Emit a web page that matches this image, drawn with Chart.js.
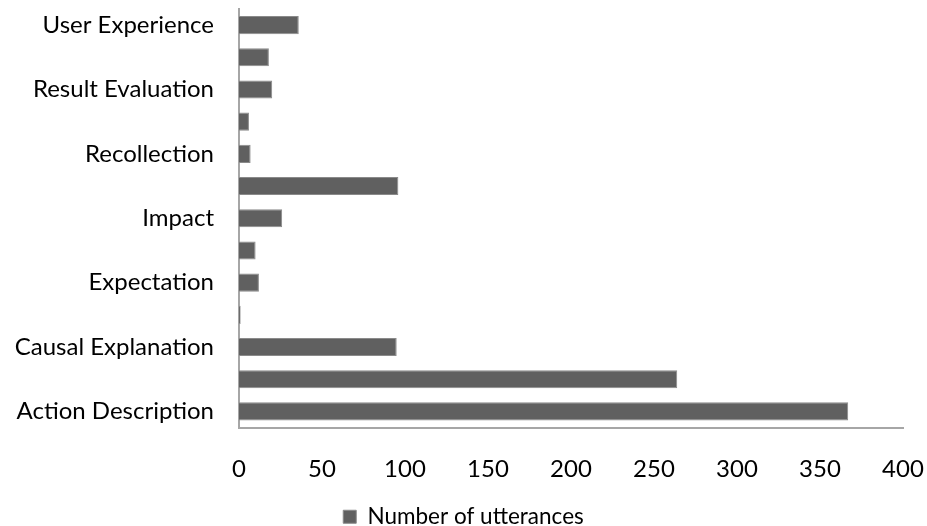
<!DOCTYPE html>
<html>
<head>
<meta charset="utf-8">
<script src="https://cdn.jsdelivr.net/npm/chart.js@4/dist/chart.umd.min.js"></script>
<style>
html,body{margin:0;padding:0;background:#fff;}
#wrap{width:927px;height:526px;position:relative;}
</style>
</head>
<body>
<div id="wrap"><canvas id="c" width="927" height="526"></canvas></div>
<script>
// Categories listed top to bottom; unlabeled rows in the source have no readable name
const categories = ["User Experience", "", "Result Evaluation", "", "Recollection", "", "Impact", "", "Expectation", "", "Causal Explanation", "", "Action Description"];
const utterances = [36, 18, 20, 6, 7, 96, 26, 10, 12, 1, 95, 264, 367];
const seriesName = "Number of utterances";
const xTicks = [0, 50, 100, 150, 200, 250, 300, 350, 400];

const FONT = "Lato, 'Open Sans', sans-serif";
new Chart(document.getElementById('c'), {
  type: 'bar',
  data: {
    labels: categories,
    datasets: [{
      label: seriesName,
      data: utterances,
      backgroundColor: '#606060',
      borderColor: '#8a8a8a',
      borderWidth: 1,
      borderSkipped: 'left',
      categoryPercentage: 1,
      barPercentage: 0.5625
    }]
  },
  options: {
    indexAxis: 'y',
    responsive: false,
    animation: false,
    layout: { padding: { top: 9, right: 0, left: 0, bottom: -12 } },
    scales: {
      x: {
        min: xTicks[0], max: xTicks[xTicks.length - 1],
        afterBuildTicks: s => { s.ticks = xTicks.map(v => ({ value: v })); },
        grid: { display: false, drawTicks: false },
        border: { display: true, color: '#a6a6a6', width: 2 },
        ticks: { color: '#000', font: { family: FONT, size: 24 }, padding: 27, maxRotation: 0 },
        afterFit: s => { s.height = 78; s.paddingLeft = 0; s.paddingRight = 24; }
      },
      y: {
        grid: { display: false, drawTicks: false },
        border: { display: true, color: '#a6a6a6', width: 2 },
        ticks: { color: '#000', font: { family: FONT, size: 24 }, padding: 25, autoSkip: false },
        afterFit: s => { s.width = 239; s.paddingTop = 0; s.paddingBottom = 0; }
      }
    },
    plugins: {
      legend: {
        position: 'bottom',
        labels: { color: '#000', font: { family: FONT, size: 22.5 }, boxWidth: 13, boxHeight: 13, padding: 0 }
      },
      tooltip: { enabled: false }
    }
  }
});
</script>
</body>
</html>
